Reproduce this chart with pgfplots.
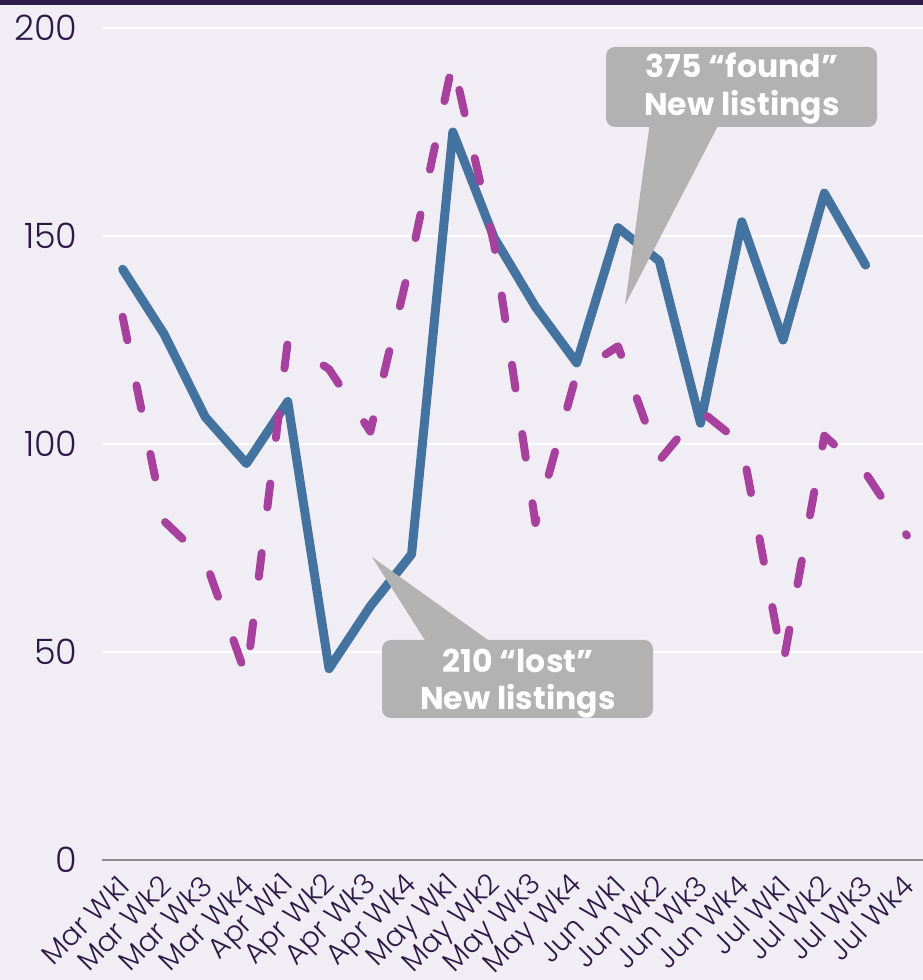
\documentclass[border=0pt]{standalone}
\usepackage{pgfplots}
\pgfplotsset{compat=1.18}
\usepackage{fontspec}
\setmainfont{Poppins}[UprightFont=* Light, BoldFont=* Bold]
\definecolor{bgcol}{HTML}{F0EDF5}
\definecolor{topcol}{HTML}{2E1B48}
\definecolor{textcol}{HTML}{2E1A47}
\definecolor{blueline}{HTML}{44739F}
\definecolor{magline}{HTML}{A8409D}
\definecolor{boxgray}{HTML}{B1B2B1}
\definecolor{axisgray}{HTML}{8E8E8E}
\begin{document}
\begin{tikzpicture}
\fill[bgcol] (0,0) rectangle (923pt,980pt);
\fill[topcol] (0,975pt) rectangle (923pt,980pt);
\path[use as bounding box] (0,0) rectangle (923pt,980pt);
\begin{axis}[
  at={(102pt,120pt)}, anchor=south west,
  scale only axis, width=821pt, height=832pt,
  xmin=-0.5, xmax=19.39, ymin=0, ymax=200,
  clip=false,
  axis x line*=bottom, axis y line*=left,
  axis line style={-},
  x axis line style={draw=axisgray, line width=2pt},
  y axis line style={draw=none},
  ytick={0,50,100,150,200},
  ytick style={draw=none},
  ymajorgrids, grid style={white, line width=2pt},
  xtick={0,...,19},
  xticklabels={Mar Wk1,Mar Wk2,Mar Wk3,Mar Wk4,Apr Wk1,Apr Wk2,Apr Wk3,Apr Wk4,May Wk1,May Wk2,May Wk3,May Wk4,Jun Wk1,Jun Wk2,Jun Wk3,Jun Wk4,Jul Wk1,Jul Wk2,Jul Wk3,Jul Wk4},
  xtick style={draw=none},
  extra x ticks={-0.5,0.5,...,18.5},
  extra x tick labels={},
  extra x tick style={grid=none, tick style={draw=axisgray, line width=2pt}, major tick length=8pt, tick align=outside},
  /pgf/number format/assume math mode=true,
  yticklabel style={font=\fontsize{35}{40}\selectfont, text=textcol, anchor=east, xshift=-21pt},
  xticklabel style={font=\fontsize{28.5}{34}\selectfont, text=textcol, rotate=45, anchor=east, xshift=-10pt, yshift=-16pt},
]
\addplot[blueline, line width=9pt, line join=round, line cap=round] coordinates {
(0,142) (1,126.5) (2,106.5) (3,95.3) (4,110.2) (5,46) (6,61) (7,73.5) (8,175) (9,149.6)
(10,133) (11,119.5) (12,152) (13,144) (14,105) (15,153.4) (16,125) (17,160.3) (18,143)};
\addplot[magline, line width=8pt, line join=round, line cap=round, dash pattern=on 24pt off 46pt] coordinates {
(0,130.6) (1,81.5) (2,72) (3,44) (4,124.6) (5,118) (6,103) (7,145) (8,192) (9,148)
(10,81) (11,117) (12,123.5) (13,96) (14,108) (15,100) (16,47) (17,102) (18,93) (19,78)};
\end{axis}
% callout boxes
\fill[boxgray] (428pt,335pt) -- (495pt,335pt) -- (372pt,423pt) -- cycle;
\fill[boxgray, rounded corners=9pt] (382pt,262pt) rectangle (653pt,340pt);
\node[anchor=base, text=white, font=\bfseries\fontsize{31.5}{36}\selectfont, inner sep=0pt] at (518pt,307pt) {210 “lost”};
\node[anchor=base, text=white, font=\bfseries\fontsize{31.5}{36}\selectfont, inner sep=0pt] at (518pt,270pt) {New listings};
\fill[boxgray] (650pt,858pt) -- (720pt,858pt) -- (625pt,675pt) -- cycle;
\fill[boxgray, rounded corners=9pt] (606pt,853pt) rectangle (877pt,933pt);
\node[anchor=base, text=white, font=\bfseries\fontsize{31.5}{36}\selectfont, inner sep=0pt] at (742pt,902pt) {375 “found”};
\node[anchor=base, text=white, font=\bfseries\fontsize{31.5}{36}\selectfont, inner sep=0pt] at (742pt,864pt) {New listings};
\end{tikzpicture}
\end{document}
